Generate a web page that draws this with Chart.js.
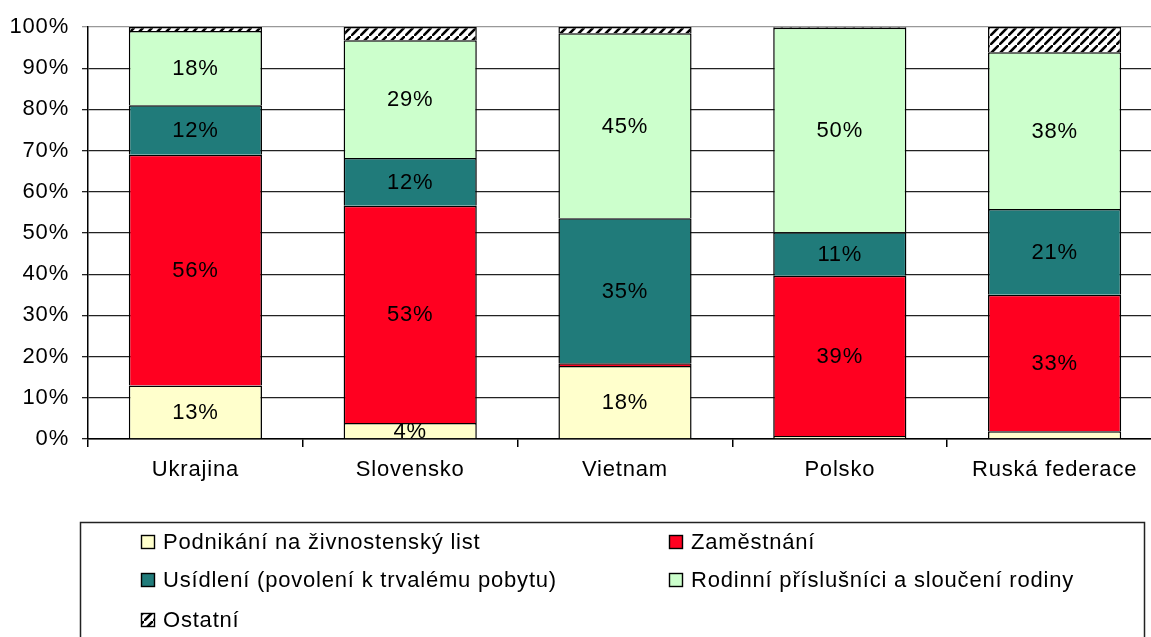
<!DOCTYPE html>
<html>
<head>
<meta charset="utf-8">
<script src="https://cdn.jsdelivr.net/npm/chart.js@4.4.1/dist/chart.umd.min.js"></script>
<style>
  html, body { margin: 0; padding: 0; background: #fff; overflow: hidden; }
  #wrap { width: 1162px; height: 637px; }
</style>
</head>
<body>
<div id="wrap"><canvas id="purposeChart" width="1162" height="637"></canvas></div>
<script>
// <------------------------------ Data ------------------------------>
const countries = ['Ukrajina', 'Slovensko', 'Vietnam', 'Polsko', 'Ruská federace'];
const seriesNames = [
  'Podnikání na živnostenský list',
  'Zaměstnání',
  'Usídlení (povolení k trvalému pobytu)',
  'Rodinní příslušníci a sloučení rodiny',
  'Ostatní'
];
const podnikani = [13, 3.9, 17.7, 0.7, 1.9];
const zamestnani = [56, 52.7, 0.7, 38.9, 33.1];
const usidleni = [12, 11.6, 35.2, 10.6, 20.8];
const rodinni = [18, 28.6, 44.9, 49.6, 38.1];
const ostatni = [1, 3.2, 1.5, 0.2, 6.1];
const yTicks = [0, 10, 20, 30, 40, 50, 60, 70, 80, 90, 100];

const FONT = 'Arial, "Liberation Sans", sans-serif';
const SPACING = '0.8px';

// hatch pattern for "Ostatní"
function makeHatch() {
  let pc = document.createElement('canvas');
  pc.width = 9; pc.height = 9;
  let p = pc.getContext('2d');
  p.fillStyle = '#fff';
  p.fillRect(0, 0, 9, 9);
  p.strokeStyle = '#000';
  p.lineWidth = 2.6;
  p.beginPath();
  p.moveTo(-1, 10); p.lineTo(10, -1);
  p.stroke();
  return p.createPattern(pc, 'repeat');
}
const hatch = makeHatch();

// wider lettering like the original
const spacing = {
  id: 'spacing',
  beforeDraw(chart) { chart.ctx.letterSpacing = SPACING; }
};

// labels inside segments
const segmentLabels = {
  id: 'segmentLabels',
  afterDatasetsDraw(chart) {
    const ctx = chart.ctx;
    ctx.save();
    ctx.letterSpacing = SPACING;
    ctx.font = '22px ' + FONT;
    ctx.fillStyle = '#000';
    ctx.textAlign = 'center';
    ctx.textBaseline = 'middle';
    chart.data.datasets.forEach((ds, i) => {
      if (i > 3) return;
      chart.getDatasetMeta(i).data.forEach((bar, j) => {
        let v = ds.data[j];
        if (v < 3) return;
        ctx.fillText(Math.round(v) + '%', bar.x, (bar.y + bar.base) / 2 + 1);
      });
    });
    ctx.restore();
  }
};

// boxed two-column legend
const boxLegend = {
  id: 'boxLegend',
  afterDraw(chart) {
    const ctx = chart.ctx;
    ctx.save();
    ctx.letterSpacing = SPACING;
    ctx.strokeStyle = '#222';
    ctx.lineWidth = 1.5;
    ctx.strokeRect(80.5, 522.5, 1064, 140);
    const cols = [141, 669];
    const rows = [542, 580, 620];
    ctx.font = '22px ' + FONT;
    ctx.textBaseline = 'middle';
    ctx.textAlign = 'left';
    chart.data.datasets.forEach((ds, i) => {
      let x = cols[i % 2], y = rows[Math.floor(i / 2)];
      ctx.fillStyle = ds.backgroundColor;
      ctx.fillRect(x, y - 7, 14, 14);
      ctx.lineWidth = 1.4;
      ctx.strokeStyle = '#000';
      ctx.strokeRect(x + 0.5, y - 6.5, 13, 13);
      ctx.fillStyle = '#000';
      ctx.fillText(ds.label, x + 22, y + 1);
    });
    ctx.restore();
  }
};

function makeDataset(label, data, color) {
  return {
    label: label,
    data: data,
    backgroundColor: color,
    borderColor: '#000',
    borderWidth: 1.5,
    barPercentage: 0.62,
    categoryPercentage: 1
  };
}

let ctx = document.getElementById('purposeChart').getContext('2d');
let purposeChart = new Chart(ctx, {
  type: 'bar',
  data: {
    labels: countries,
    datasets: [
      makeDataset(seriesNames[0], podnikani, '#FFFFCC'),
      makeDataset(seriesNames[1], zamestnani, '#FF0020'),
      makeDataset(seriesNames[2], usidleni, '#207B7A'),
      makeDataset(seriesNames[3], rodinni, '#CCFFCC'),
      makeDataset(seriesNames[4], ostatni, hatch)
    ]
  },
  options: {
    responsive: false,
    animation: false,
    layout: { padding: { top: 27, right: 0, bottom: 0, left: 0 } },
    plugins: {
      legend: { display: false },
      tooltip: { enabled: false }
    },
    scales: {
      x: {
        stacked: true,
        afterFit(scale) { scale.height = 637 - 439; },
        grid: {
          offset: true,
          drawOnChartArea: false,
          color: '#000',
          tickLength: 8,
          lineWidth: 1.5
        },
        border: { color: '#000', width: 1.5 },
        ticks: {
          color: '#000',
          padding: 10,
          maxRotation: 0,
          font: { family: FONT, size: 22 }
        }
      },
      y: {
        stacked: true,
        min: 0,
        max: 100,
        afterFit(scale) { scale.width = 88; },
        afterBuildTicks(scale) { scale.ticks = yTicks.map(v => ({ value: v })); },
        grid: {
          color: (c) => c.tick && c.tick.value === 100 ? '#999' : '#222',
          lineWidth: 1.3,
          tickLength: 6
        },
        border: { color: '#000', width: 1.5 },
        ticks: {
          color: '#000',
          padding: 13,
          font: { family: FONT, size: 22 },
          callback: (v) => v + '%'
        }
      }
    }
  },
  plugins: [spacing, segmentLabels, boxLegend]
});
</script>
</body>
</html>
